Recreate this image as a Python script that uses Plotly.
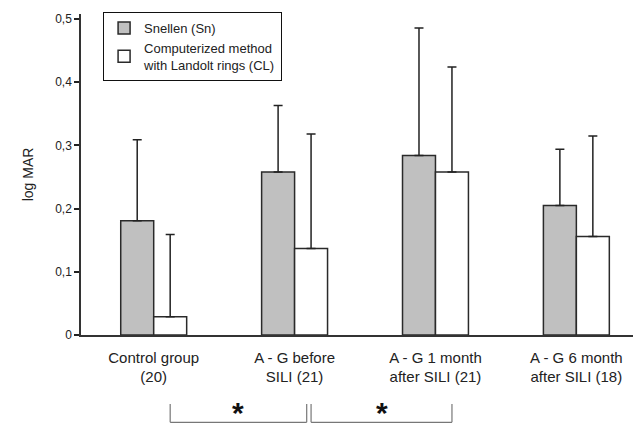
import plotly.graph_objects as go

categories = ["Control group<br>(20)", "A - G before<br>SILI (21)",
              "A - G 1 month<br>after SILI (21)", "A - G 6 month<br>after SILI (18)"]
sn_values = [0.181, 0.258, 0.284, 0.205]
sn_err = [0.128, 0.105, 0.202, 0.089]
cl_values = [0.029, 0.137, 0.258, 0.156]
cl_err = [0.130, 0.181, 0.166, 0.159]
y_ticks = [0, 0.1, 0.2, 0.3, 0.4, 0.5]
y_ticktext = ["0", "0,1", "0,2", "0,3", "0,4", "0,5"]
sig_pairs = [(0, 1), (1, 2)]  # CL comparisons marked significant

FONT = "Liberation Sans, Arial, Helvetica, sans-serif"
BW = 0.234
XR = [-0.516, 3.402]
idx = list(range(len(categories)))

fig = go.Figure()
fig.add_trace(go.Bar(
    x=idx, y=sn_values, name="Snellen (Sn)", width=BW, offset=-BW,
    marker=dict(color="#c0c0c0", line=dict(color="#2a2a2a", width=1.5)),
    error_y=dict(type="data", array=sn_err, arrayminus=[0]*4, symmetric=False,
                 color="#222", thickness=1.5, width=4.5),
))
fig.add_trace(go.Bar(
    x=idx, y=cl_values, name="Computerized method<br>with Landolt rings (CL)",
    width=BW, offset=0,
    marker=dict(color="#ffffff", line=dict(color="#2a2a2a", width=1.5)),
    error_y=dict(type="data", array=cl_err, arrayminus=[0]*4, symmetric=False,
                 color="#222", thickness=1.5, width=4.5),
))

# significance brackets below the axis (between CL bar centres)
gap = 0.031
for k, (a, b) in enumerate(sig_pairs):
    xa = a + BW / 2
    xb = b + BW / 2 - (gap if k == 0 else 0)
    for (x0, y0, x1, y1) in [(xa, -0.215, xa, -0.272), (xa, -0.272, xb, -0.272),
                             (xb, -0.272, xb, -0.215)]:
        fig.add_shape(type="line", xref="x", yref="paper", x0=x0, x1=x1, y0=y0, y1=y1,
                      line=dict(color="#777", width=1.2))
    fig.add_annotation(x=(xa + xb) / 2, y=-0.2425, xref="x", yref="paper", text="<b>*</b>",
                       showarrow=False, yanchor="middle",
                       font=dict(family=FONT, size=30, color="#111"))

fig.update_layout(
    width=633, height=423,
    margin=dict(l=81, r=0, t=14, b=88),
    paper_bgcolor="white", plot_bgcolor="white",
    barmode="overlay",
    font=dict(family=FONT, color="#222"),
    showlegend=True,
    legend=dict(x=0.04, y=1.006, xanchor="left", yanchor="top",
                bordercolor="#111", borderwidth=1, bgcolor="white",
                font=dict(family=FONT, size=13, color="#222"),
                tracegroupgap=2),
    xaxis=dict(range=XR, tickvals=idx, ticktext=categories, showline=True,
               linecolor="#333", linewidth=1.5, ticks="outside", ticklen=8,
               tickcolor="rgba(0,0,0,0)", showgrid=False, zeroline=False,
               tickfont=dict(family=FONT, size=15, color="#222")),
    yaxis=dict(range=[0, 0.508], tickvals=y_ticks, ticktext=y_ticktext,
               showline=True, linecolor="#333", linewidth=1.5,
               ticks="outside", ticklen=5, tickwidth=1.5, tickcolor="#222",
               showgrid=False, zeroline=False,
               tickfont=dict(family=FONT, size=12, color="#222"),
               title=dict(text="log MAR", standoff=18,
                          font=dict(family=FONT, size=14, color="#222"))),
    yaxis2=dict(range=[0, 0.508], overlaying="y", side="left", tickvals=y_ticks,
                ticks="inside", ticklen=5, tickwidth=1.5, tickcolor="#222",
                showticklabels=False, showgrid=False, zeroline=False, showline=False),
)

fig.write_html("out.html", config={"displayModeBar": False},
               post_script="document.body.style.margin='0';document.body.style.padding='0';")
